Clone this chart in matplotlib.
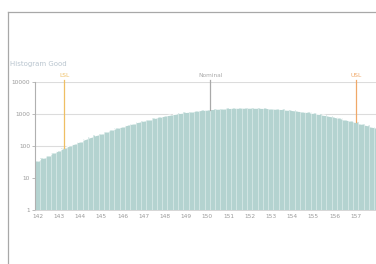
import numpy as np
import matplotlib.pyplot as plt
from matplotlib.lines import Line2D

# bin centres (width 0.25) and counts
bin_centers = [142.0 + 0.25 * i for i in range(65)]
counts = [34, 41, 50, 60, 71, 85, 100, 117, 137, 160, 185, 213, 244, 279, 316, 357,
          402, 450, 501, 555, 612, 671, 733, 796, 861, 927, 993, 1059, 1122, 1183, 1243, 1300,
          1351, 1397, 1439, 1475, 1503, 1526, 1541, 1549, 1549, 1540, 1524, 1503, 1473, 1437, 1396, 1349,
          1297, 1241, 1181, 1119, 1056, 991, 925, 859, 794, 731, 669, 610, 553, 499, 448, 400,
          356]

x_ticks = list(range(142, 158))
y_ticks = [1, 10, 100, 1000, 10000]

spec_names = ['LSL', 'Nominal', 'USL']
spec_pos = [143.25, 150.15, 157.0]
spec_end = [85, 1360, 560]
spec_colors = ['#efbf63', '#a9a9a9', '#f0a868']

fig = plt.figure(figsize=(3.76, 2.64), dpi=100)

# panel border (cropped screenshot of a card)
fig.add_artist(Line2D([8/376, 8/376], [0, 1 - 12/264], color='#a8a8a8', lw=0.9))
fig.add_artist(Line2D([8/376, 1], [1 - 12/264, 1 - 12/264], color='#a8a8a8', lw=0.9))

ax = fig.add_axes([35/376, 54/264, 341/376, 128/264])

ax.bar(bin_centers, counts, width=0.25, color='#b4d3d0', edgecolor='#d6e8e6',
       linewidth=0.5, zorder=2)
ax.plot(bin_centers, counts, color='white', lw=0.9, dashes=(3, 2), zorder=3)

ax.set_yscale('log')
ax.set_ylim(1, 10000)
ax.set_xlim(141.875, 157.96)
ax.set_yticks(y_ticks)
ax.set_yticklabels([str(v) for v in y_ticks])
ax.minorticks_off()
ax.set_xticks(x_ticks)
ax.set_xticklabels([str(v) for v in x_ticks])
ax.tick_params(axis='both', labelsize=4.2, labelcolor='#9a9a9a', color='#b0b0b0',
               length=2, width=0.6, pad=1.5)
ax.tick_params(axis='x', length=0, pad=3)

ax.grid(axis='y', color='#dcdcdc', lw=0.8, zorder=0)
ax.set_axisbelow(True)
for s in ['top', 'right']:
    ax.spines[s].set_visible(False)
ax.spines['left'].set_color('#b0b0b0')
ax.spines['left'].set_linewidth(0.8)
ax.spines['bottom'].set_color('#d0d0d0')
ax.spines['bottom'].set_linewidth(0.6)

for name, xp, ye, c in zip(spec_names, spec_pos, spec_end, spec_colors):
    ax.plot([xp, xp], [ye, 11500], color=c, lw=0.9, zorder=4, clip_on=False)
    ax.text(xp, 13500, name, ha='center', va='bottom', fontsize=4.2, color=c,
            clip_on=False)

fig.text(10/376, 1 - 64/264, 'Histogram Good', fontsize=5, color='#b9c5cf',
         ha='left', va='center')

fig.savefig('out.png', dpi=100)
